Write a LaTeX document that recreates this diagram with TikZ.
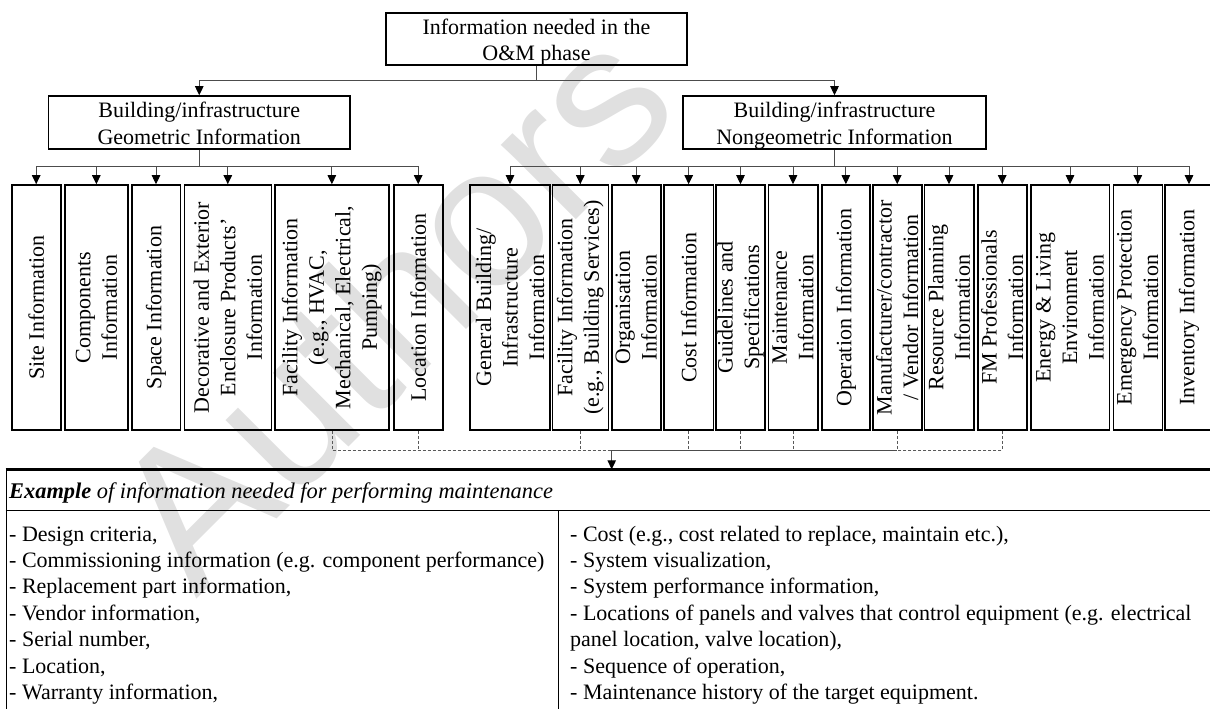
\documentclass[tikz,border=0pt]{standalone}
\usepackage{fontspec}
\setmainfont{Liberation Serif}
\newfontfamily\wmfont{Liberation Sans}
\usetikzlibrary{arrows.meta}
\begin{document}
\begin{tikzpicture}[x=1pt,y=-1pt,
  every node/.style={font=\fontsize{22}{26.5}\selectfont},
  hbox/.style={draw, line width=1.6pt, inner sep=0pt},
  htext/.style={align=center, inner sep=0pt, yshift=-3.3pt},
  vbox/.style={draw, line width=1.6pt, inner sep=0pt, minimum height=245pt},
  vtext/.style={rotate=90, align=center, inner sep=0pt},
  conn/.style={draw=black!70, line width=0.9pt},
  arr/.style={conn, -{Triangle[width=8.5pt,length=9pt,color=black]}},
  dashline/.style={draw=black!65, line width=0.7pt, dash pattern=on 3pt off 2pt},
  rowtext/.style={anchor=base west, inner sep=0pt}
]
\useasboundingbox (0,0) rectangle (1210,709);

% faint watermark behind everything
\node[rotate=45, text=black!12, inner sep=0pt,
      font=\wmfont\fontsize{200}{200}\selectfont] (wm) at (390,305) {Authors};

% root and the two main branches
\node[hbox, minimum width=301pt, minimum height=52pt] (top) at (536.5,39) {};
\node[htext] (top-t) at (top) {\strut Information needed in the\\O\&M phase\strut};
\node[hbox, minimum width=301.5pt, minimum height=53pt] (geo) at (199.25,122.5) {};
\node[htext] (geo-t) at (geo) {\strut Building/infrastructure\\Geometric Information\strut};
\node[hbox, minimum width=303pt, minimum height=53pt] (ngeo) at (834.5,122.5) {};
\node[htext] (ngeo-t) at (ngeo) {\strut Building/infrastructure\\Nongeometric Information\strut};

\coordinate (tophub) at (536.5,80.7);
\draw[conn] (top.south) -- (tophub);
\draw[arr] (tophub) -| (geo.north);
\draw[arr] (tophub) -| (ngeo.north);

% leaf boxes with vertical labels
\foreach \n/\xa/\xb/\lbl in {
  G1/11.7/60.7/{Site Information},
  G2/65/127.7/{Components\\Information},
  G3/131.7/180.3/{Space Information},
  G4/184.3/271.3/{Decorative and Exterior\\Enclosure Products’\\Information},
  G5/274.7/389/{Facility Information\\(e.g., HVAC,\\Mechanical, Electrical,\\Pumping)},
  G6/393.7/442.7/{Location Information},
  N1/470/550/{General Building/\\Infrastructure\\Information},
  N2/552.3/608.3/{Facility Information\\(e.g., Building Services)},
  N3/611.7/660.7/{Organisation\\Information},
  N4/664/713.3/{Cost Information},
  N5/716/765/{Guidelines and\\Specifications},
  N6/768.3/817.7/{Maintenance\\Information},
  N7/821.7/870/{Operation Information},
  N8/872.7/921.7/{Manufacturer/contractor\\/ Vendor Information},
  N9/924.3/973.7/{Resource Planning\\Information},
  N10/977.7/1026.7/{FM Professionals\\Information},
  N11/1030.7/1109.3/{Energy \& Living\\Environment\\Information},
  N12/1113.3/1162.3/{Emergency Protection\\Information},
  N13/1165/1213/{Inventory Information}}
{
  \node[vbox, minimum width={\xb-\xa}] (\n) at ({(\xa+\xb)/2},307.5) {};
  \node[vtext] (\n-t) at (\n) {\lbl};
}

\coordinate (ghub) at (199.25,166.7);
\coordinate (nhub) at (834.5,166.7);
\draw[conn] (geo.south) -- (ghub);
\draw[conn] (ngeo.south) -- (nhub);
\foreach \n in {G1,G2,G3,G4,G5,G6}
  \draw[arr] (ghub) -| (\n.north);
\foreach \n in {N1,N2,N3,N4,N5,N6,N7,N8,N9,N10,N11,N12,N13}
  \draw[arr] (nhub) -| (\n.north);

% example table
\node[draw, line width=1.4pt, inner sep=0pt, minimum width=1230pt,
      minimum height=260pt, anchor=north west] (tbl) at (5.5,469.3) {};
\draw[line width=2pt] (tbl.north west) -- (tbl.north east);
\coordinate (hdl) at (5.5,510);
\draw[line width=1pt] (hdl) -- (hdl -| tbl.east);
\coordinate (coltop) at (558.3,510);
\draw[line width=1pt] (coltop) -- (coltop |- tbl.south);

% links from selected leaves to the table
\coordinate (dhub) at (611.7,450);
\draw[dashline] (G5.south) |- (dhub);
\draw[dashline] (G6.south) -- (G6.south |- dhub);
\draw[dashline] (N2.south) -- (N2.south |- dhub);
\foreach \n in {N4,N5,N6,N8}
  \draw[dashline] (\n.south) -- (\n.south |- dhub);
\draw[dashline] (N10.south) |- (N8.south |- dhub);
\draw[conn, line width=0.7pt] (dhub) -- (N8.south |- dhub);
\draw[arr] (dhub) -- (dhub |- tbl.north);

\node[rowtext, font=\fontsize{22.4}{26.5}\selectfont] (hdr) at (9,498.3)
  {\textbf{\textit{Example}} \textit{of information needed for performing maintenance}};

\foreach \i/\txt in {
  1/{- Design criteria,},
  2/{- Commissioning information (e.g. component performance)},
  3/{- Replacement part information,},
  4/{- Vendor information,},
  5/{- Serial number,},
  6/{- Location,},
  7/{- Warranty information,}}
  \node[rowtext] (l\i) at (9,{541+(\i-1)*26.4}) {\txt};

\foreach \i/\txt in {
  1/{- Cost (e.g., cost related to replace, maintain etc.),},
  2/{- System visualization,},
  3/{- System performance information,},
  4/{- Locations of panels and valves that control equipment (e.g. electrical},
  5/{panel location, valve location),},
  6/{- Sequence of operation,},
  7/{- Maintenance history of the target equipment.}}
  \node[rowtext] (r\i) at (570,{541+(\i-1)*26.4}) {\txt};
\end{tikzpicture}
\end{document}
